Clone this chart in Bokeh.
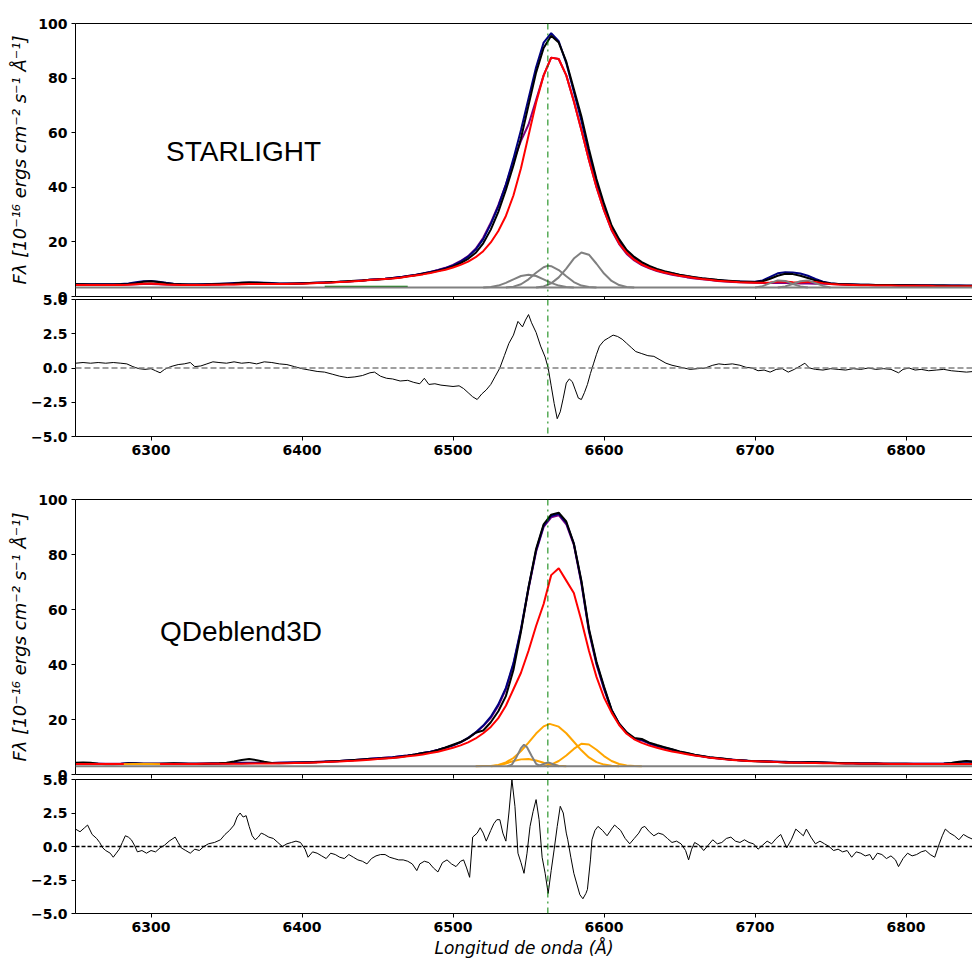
import numpy as np
from bokeh.plotting import figure
from bokeh.layouts import column
from bokeh.models import Span, Label, FixedTicker, LinearAxis, Range1d
from bokeh.embed import file_html
from bokeh.resources import INLINE

# ---------------- data ----------------
wl = np.arange(6250, 6850, 5)          # wavelength grid of the spectra (Angstrom)
halpha = 6562.8                          # H-alpha rest wavelength

x_ticks = [6300, 6400, 6500, 6600, 6700, 6800]
flux_ticks = [0, 20, 40, 60, 80, 100]
res_ticks = [-5, -2.5, 0, 2.5, 5]
res_tick_labels = ["\u22125.0", "\u22122.5", "0.0", "2.5", "5.0"]

# ---- STARLIGHT panel ----
obs1 = [
    4.5, 4.5, 4.4, 4.4, 4.4, 4.4, 4.5, 4.6, 4.9, 5.4,
    5.6, 5.3, 4.9, 4.6, 4.5, 4.4, 4.4, 4.4, 4.5, 4.6,
    4.7, 4.8, 5.0, 5.1, 5.0, 4.9, 4.8, 4.7, 4.7, 4.8,
    4.8, 4.9, 5.0, 5.1, 5.3, 5.4, 5.6, 5.8, 5.9, 6.1,
    6.2, 6.4, 6.7, 7.0, 7.4, 7.8, 8.3, 8.8, 9.4, 10.1,
    11.0, 12.2, 13.8, 16.0, 19.5, 24.5, 31.0, 39.0, 48.0, 58.0,
    70.0, 82.0, 91.0, 95.5, 93.0, 86.0, 76.0, 66.0, 54.0, 43.0,
    34.0, 26.0, 21.0, 17.0, 14.5, 12.6, 11.2, 10.1, 9.3, 8.6,
    8.0, 7.5, 7.1, 6.7, 6.4, 6.1, 5.9, 5.7, 5.5, 5.4,
    5.3, 5.6, 6.5, 7.6, 8.3, 8.2, 7.6, 6.8, 5.9, 5.2,
    4.8, 4.6, 4.5, 4.4, 4.3, 4.3, 4.2, 4.2, 4.2, 4.1,
    4.1, 4.1, 4.0, 4.0, 4.0, 4.0, 3.9, 3.9, 3.9, 3.9,
]
model1 = [
    4.5, 4.5, 4.5, 4.5, 4.5, 4.5, 4.6, 4.8, 5.2, 5.6,
    5.7, 5.4, 5.0, 4.7, 4.5, 4.4, 4.4, 4.5, 4.6, 4.7,
    4.8, 4.9, 5.0, 5.1, 5.1, 5.0, 4.9, 4.8, 4.8, 4.8,
    4.9, 4.9, 5.0, 5.1, 5.2, 5.4, 5.5, 5.7, 5.9, 6.1,
    6.3, 6.5, 6.8, 7.1, 7.5, 7.9, 8.4, 9.0, 9.6, 10.4,
    11.4, 12.8, 14.6, 17.2, 21.0, 26.5, 33.0, 41.0, 50.5, 61.0,
    72.5, 84.0, 93.0, 96.5, 93.5, 85.5, 75.0, 64.5, 52.5, 41.5,
    32.5, 25.0, 20.0, 16.3, 14.0, 12.2, 10.9, 9.9, 9.1, 8.5,
    7.9, 7.4, 7.0, 6.6, 6.3, 6.0, 5.8, 5.6, 5.5, 5.4,
    5.4, 5.9, 7.2, 8.5, 8.9, 8.8, 8.4, 7.6, 6.4, 5.4,
    4.9, 4.6, 4.5, 4.4, 4.3, 4.3, 4.2, 4.2, 4.2, 4.2,
    4.2, 4.1, 4.1, 4.1, 4.0, 4.0, 4.0, 4.0, 3.9, 3.9,
]
broad1 = [
    4.2, 4.2, 4.2, 4.2, 4.2, 4.2, 4.2, 4.3, 4.5, 4.7,
    4.8, 4.6, 4.4, 4.3, 4.2, 4.2, 4.2, 4.2, 4.3, 4.3,
    4.4, 4.4, 4.5, 4.6, 4.6, 4.6, 4.6, 4.6, 4.6, 4.7,
    4.7, 4.8, 4.9, 5.0, 5.1, 5.3, 5.4, 5.6, 5.8, 6.0,
    6.2, 6.4, 6.6, 6.9, 7.3, 7.7, 8.1, 8.6, 9.2, 9.8,
    10.6, 11.6, 12.8, 14.4, 16.6, 19.8, 24.0, 29.5, 37.0, 47.0,
    59.0, 71.0, 81.0, 87.5, 87.0, 81.0, 71.5, 61.0, 50.0, 40.0,
    31.5, 24.5, 19.5, 16.0, 13.5, 11.8, 10.5, 9.5, 8.8, 8.2,
    7.6, 7.2, 6.8, 6.4, 6.1, 5.8, 5.6, 5.4, 5.2, 5.1,
    5.0, 5.0, 5.1, 5.4, 5.5, 5.2, 5.1, 5.4, 5.3, 4.9,
    4.6, 4.4, 4.3, 4.2, 4.1, 4.1, 4.0, 4.0, 4.0, 3.9,
    3.9, 3.9, 3.9, 3.9, 3.8, 3.8, 3.8, 3.8, 3.8, 3.8,
]
cont1 = [
    4.3, 4.3, 4.3, 4.3, 4.3, 4.3, 4.3, 4.4, 4.5, 4.6,
    4.6, 4.5, 4.4, 4.3, 4.3, 4.3, 4.3, 4.3, 4.4, 4.4,
    4.5, 4.5, 4.6, 4.6, 4.6, 4.6, 4.6, 4.6, 4.7, 4.7,
    4.8, 4.9, 5.0, 5.1, 5.2, 5.4, 5.5, 5.7, 5.9, 6.1,
    6.3, 6.5, 6.8, 7.1, 7.5, 7.9, 8.4, 9.0, 9.7, 10.5,
    11.6, 13.0, 14.8, 17.5, 21.5, 27.0, 33.5, 41.0, 49.5, 57.0,
    63.0, 72.0, 81.0, 87.5, 87.0, 81.0, 71.5, 61.0, 50.0, 40.0,
    31.5, 24.3, 19.2, 15.6, 13.2, 11.5, 10.3, 9.3, 8.6, 8.0,
    7.5, 7.0, 6.6, 6.3, 6.0, 5.7, 5.5, 5.3, 5.2, 5.1,
    5.0, 4.9, 4.9, 4.9, 4.9, 4.9, 4.8, 4.8, 4.7, 4.7,
    4.6, 4.5, 4.4, 4.3, 4.2, 4.2, 4.1, 4.1, 4.1, 4.0,
    4.0, 4.0, 4.0, 3.9, 3.9, 3.9, 3.9, 3.9, 3.9, 3.9,
]
base1 = 3.3
n6548_1_wl = [6520, 6525, 6530, 6535, 6540, 6545, 6550, 6555, 6560, 6565, 6570, 6575, 6580]
n6548_1 = [3.3, 3.5, 4.0, 5.0, 6.3, 7.5, 8.0, 7.5, 6.3, 5.0, 4.0, 3.5, 3.3]
ha_n1_wl = [6535, 6540, 6545, 6550, 6555, 6560, 6563, 6565, 6570, 6575, 6580, 6585, 6590, 6595]
ha_n1 = [3.3, 3.6, 4.5, 6.3, 8.7, 10.7, 11.3, 11.1, 9.7, 7.4, 5.3, 4.0, 3.5, 3.3]
n6583_1_wl = [6555, 6560, 6565, 6570, 6575, 6580, 6585, 6590, 6595, 6600, 6605, 6610, 6615, 6620]
n6583_1 = [3.3, 3.7, 4.8, 7.0, 10.2, 13.9, 16.1, 15.3, 12.0, 8.4, 5.7, 4.2, 3.5, 3.3]
s6716_1_wl = [6700, 6705, 6710, 6715, 6720, 6725, 6730, 6735]
s6716_1 = [3.3, 3.8, 4.9, 5.9, 5.7, 4.6, 3.7, 3.3]
s6731_1_wl = [6715, 6720, 6725, 6730, 6735, 6740, 6745, 6750]
s6731_1 = [3.3, 3.7, 4.6, 5.6, 5.9, 4.9, 3.9, 3.3]
green1_wl = [6415, 6440, 6470]
green1 = [3.6, 3.6, 3.6]

res1_wl = [6250, 6255, 6260, 6265, 6270, 6275, 6280, 6284, 6288, 6292, 6296, 6300, 6303, 6306,
           6309, 6313, 6318, 6322, 6326, 6329, 6333, 6337, 6341, 6345, 6350, 6355, 6360, 6365,
           6370, 6375, 6380, 6385, 6390, 6395, 6400, 6405, 6410, 6415, 6420, 6425, 6430, 6435,
           6440, 6445, 6448, 6452, 6456, 6460, 6465, 6470, 6474, 6478, 6481, 6484, 6488, 6492,
           6496, 6500, 6504, 6507, 6510, 6513, 6516, 6519, 6522, 6525, 6528, 6531, 6534, 6537,
           6540, 6543, 6546, 6548, 6550, 6552, 6555, 6558, 6561, 6563, 6565, 6567, 6569, 6571,
           6573, 6575, 6577, 6579, 6581, 6583, 6585, 6587, 6589, 6591, 6593, 6595, 6597, 6600,
           6603, 6606, 6609, 6612, 6615, 6618, 6621, 6625, 6629, 6633, 6637, 6641, 6645, 6649,
           6653, 6657, 6662, 6667, 6672, 6676, 6680, 6685, 6690, 6694, 6698, 6702, 6706, 6710,
           6714, 6718, 6722, 6726, 6730, 6733, 6736, 6740, 6745, 6750, 6755, 6760, 6765, 6770,
           6775, 6780, 6785, 6790, 6795, 6798, 6802, 6806, 6810, 6815, 6820, 6825, 6830, 6835,
           6840, 6845]
res1 = [0.35, 0.4, 0.35, 0.4, 0.35, 0.4, 0.35, 0.3, 0.1, -0.05, -0.1, -0.05, -0.2, -0.35,
        -0.1, 0.1, 0.25, 0.3, 0.4, 0.1, 0.15, 0.3, 0.45, 0.4, 0.35, 0.45, 0.35, 0.4,
        0.3, 0.45, 0.4, 0.3, 0.25, 0.1, -0.05, -0.15, -0.25, -0.3, -0.45, -0.6, -0.7, -0.65,
        -0.55, -0.35, -0.3, -0.6, -0.75, -0.8, -0.95, -0.9, -1.05, -1.15, -0.75, -1.2, -1.15, -1.25,
        -1.3, -1.35, -1.3, -1.5, -1.8, -2.1, -2.3, -1.9, -1.6, -1.2, -0.6, 0.0, 0.9, 1.8,
        2.4, 3.4, 3.0, 3.5, 3.9, 3.3, 2.6, 1.6, 0.8, 0.0, -1.3, -2.6, -3.7, -3.2,
        -2.2, -1.1, -0.8, -1.0, -1.6, -2.2, -2.3, -1.8, -1.2, -0.4, 0.3, 1.0, 1.6, 2.0,
        2.2, 2.4, 2.3, 2.1, 1.8, 1.5, 1.2, 1.05, 0.9, 0.85, 0.6, 0.35, 0.2, 0.1,
        0.0, -0.1, -0.05, 0.0, 0.2, 0.3, 0.25, 0.3, 0.2, 0.05, 0.0, -0.2, -0.15, -0.3,
        -0.1, -0.05, -0.3, -0.1, 0.15, 0.35, 0.0, -0.1, -0.15, -0.05, -0.1, -0.15, -0.05, -0.1,
        0.0, -0.1, -0.05, -0.1, -0.35, -0.1, 0.0, -0.15, -0.1, -0.2, -0.15, -0.1, -0.2, -0.25,
        -0.3, -0.25]

# ---- QDeblend3D panel ----
obs2 = [
    4.3, 4.4, 4.3, 3.9, 3.7, 3.7, 3.8, 4.0, 4.0, 3.9,
    3.9, 3.9, 4.0, 4.1, 4.0, 3.9, 3.9, 3.9, 4.0, 4.1,
    4.3, 4.7, 5.3, 5.6, 5.2, 4.6, 4.2, 4.1, 4.2, 4.3,
    4.4, 4.4, 4.5, 4.6, 4.8, 4.9, 5.1, 5.3, 5.5, 5.6,
    5.7, 5.9, 6.1, 6.4, 6.8, 7.3, 7.8, 8.1, 8.9, 9.8,
    10.8, 11.8, 13.2, 15.2, 16.0, 19.0, 23.0, 28.5, 38.0, 52.0,
    68.0, 82.0, 91.0, 94.5, 95.2, 92.0, 84.0, 70.5, 53.0, 41.0,
    32.0, 23.5, 18.5, 15.3, 13.3, 12.9, 11.6, 10.7, 9.9, 9.2,
    8.4, 7.8, 7.2, 6.7, 6.3, 6.0, 5.7, 5.4, 5.2, 5.0,
    4.8, 4.7, 4.6, 4.5, 4.4, 4.4, 4.4, 4.5, 4.5, 4.4,
    4.3, 4.2, 4.1, 4.1, 4.0, 4.0, 4.0, 3.9, 3.9, 3.9,
    3.9, 3.8, 3.8, 3.8, 3.8, 3.9, 4.2, 4.6, 4.9, 4.6,
]
model2 = [
    4.1, 4.1, 4.0, 3.9, 3.8, 3.8, 3.9, 4.2, 4.1, 3.9,
    3.9, 3.9, 3.9, 4.0, 4.0, 3.9, 3.9, 3.9, 4.0, 4.0,
    4.1, 4.2, 4.3, 4.3, 4.3, 4.2, 4.2, 4.3, 4.4, 4.4,
    4.4, 4.5, 4.5, 4.6, 4.7, 4.9, 5.1, 5.3, 5.5, 5.7,
    5.9, 6.1, 6.3, 6.6, 6.9, 7.3, 7.8, 8.3, 8.9, 9.7,
    10.6, 11.8, 13.3, 15.3, 17.8, 21.0, 25.5, 31.5, 40.5, 53.0,
    68.0, 81.5, 90.5, 94.0, 94.8, 91.5, 84.0, 70.0, 52.5, 40.5,
    31.5, 23.5, 18.5, 15.2, 13.0, 12.6, 11.4, 10.5, 9.8, 9.1,
    8.3, 7.7, 7.1, 6.6, 6.2, 5.9, 5.6, 5.4, 5.2, 5.0,
    4.9, 4.8, 4.7, 4.6, 4.6, 4.5, 4.5, 4.5, 4.5, 4.4,
    4.3, 4.2, 4.1, 4.1, 4.0, 4.0, 4.0, 3.9, 3.9, 3.9,
    3.9, 3.9, 3.9, 3.9, 3.9, 4.0, 4.2, 4.5, 4.7, 4.6,
]
broad2 = [
    3.8, 3.8, 3.8, 3.8, 3.8, 3.8, 3.8, 3.8, 3.8, 3.8,
    3.8, 3.8, 3.8, 3.8, 3.8, 3.8, 3.8, 3.9, 3.9, 3.9,
    3.9, 3.9, 3.9, 4.0, 4.0, 4.0, 4.0, 4.1, 4.1, 4.2,
    4.2, 4.3, 4.4, 4.5, 4.6, 4.7, 4.9, 5.0, 5.2, 5.4,
    5.6, 5.8, 6.0, 6.3, 6.6, 6.9, 7.3, 7.8, 8.3, 9.0,
    9.7, 10.6, 11.7, 13.1, 15.0, 17.3, 20.5, 25.0, 31.0, 37.0,
    45.0, 54.0, 62.0, 72.5, 75.0, 70.5, 66.0, 56.0, 45.0, 35.5,
    28.0, 22.5, 18.0, 14.8, 12.8, 11.5, 10.5, 9.7, 9.0, 8.4,
    7.9, 7.4, 6.9, 6.5, 6.1, 5.8, 5.5, 5.3, 5.1, 4.9,
    4.8, 4.7, 4.6, 4.5, 4.4, 4.3, 4.3, 4.2, 4.2, 4.1,
    4.1, 4.0, 4.0, 4.0, 3.9, 3.9, 3.9, 3.9, 3.8, 3.8,
    3.8, 3.8, 3.8, 3.8, 3.8, 3.8, 3.8, 3.8, 3.8, 3.8,
]
cont2 = [
    3.9, 3.9, 3.9, 3.9, 3.9, 3.9, 3.9, 3.9, 3.9, 3.9,
    3.9, 3.9, 3.9, 3.9, 3.9, 3.9, 3.9, 4.0, 4.0, 4.0,
    4.0, 4.1, 4.1, 4.1, 4.2, 4.2, 4.2, 4.3, 4.3, 4.4,
    4.4, 4.5, 4.6, 4.7, 4.8, 4.9, 5.1, 5.3, 5.5, 5.7,
    5.9, 6.1, 6.3, 6.6, 6.9, 7.3, 7.8, 8.3, 8.9, 9.7,
    10.6, 11.7, 13.2, 15.2, 17.6, 20.6, 25.0, 31.0, 40.0, 52.5,
    67.5, 81.0, 90.0, 93.5, 94.3, 91.0, 83.5, 69.5, 52.0, 40.0,
    31.0, 23.3, 18.3, 15.1, 13.0, 12.4, 11.2, 10.3, 9.6, 8.9,
    8.1, 7.5, 7.0, 6.6, 6.2, 5.9, 5.6, 5.4, 5.2, 5.0,
    4.9, 4.8, 4.7, 4.6, 4.5, 4.5, 4.4, 4.4, 4.3, 4.3,
    4.2, 4.2, 4.1, 4.1, 4.0, 4.0, 4.0, 3.9, 3.9, 3.9,
    3.9, 3.9, 3.9, 3.9, 3.9, 3.9, 3.9, 3.9, 3.9, 3.9,
]
base2 = 3.0
ha_n2_wl = [6515, 6520, 6525, 6530, 6535, 6540, 6545, 6550, 6555, 6560, 6564, 6570, 6575,
            6580, 6585, 6590, 6595, 6600, 6605, 6610]
ha_n2 = [3.0, 3.05, 3.1, 3.5, 4.4, 6.0, 8.5, 11.6, 14.9, 17.5, 18.4, 17.4, 15.0,
         11.9, 8.8, 6.2, 4.5, 3.6, 3.2, 3.0]
n6583_2_wl = [6560, 6565, 6570, 6575, 6580, 6585, 6590, 6595, 6600, 6605, 6610, 6615, 6620, 6625]
n6583_2 = [3.1, 3.6, 4.9, 6.9, 9.3, 11.2, 10.9, 9.0, 6.7, 4.9, 3.8, 3.3, 3.05, 3.0]
n6548_2_wl = [6525, 6530, 6535, 6540, 6545, 6550, 6555, 6560, 6565, 6570, 6575]
n6548_2 = [3.0, 3.3, 4.0, 4.9, 5.5, 5.6, 5.1, 4.3, 3.6, 3.2, 3.0]
o6300_2_wl = [6282, 6288, 6294, 6300, 6306]
o6300_2 = [3.75, 3.8, 3.85, 3.8, 3.75]
gn6548_2_wl = [6536, 6539, 6542, 6545, 6547, 6549, 6552, 6555, 6558]
gn6548_2 = [3.0, 3.6, 6.3, 9.6, 10.8, 9.9, 6.8, 3.9, 3.0]
gha_2_wl = [6556, 6560, 6563, 6566, 6570]
gha_2 = [3.0, 3.8, 4.4, 3.8, 3.0]

res2_wl = [6250, 6253, 6256, 6258, 6261, 6264, 6266, 6268, 6270, 6273, 6275, 6277, 6279, 6281,
           6283, 6285, 6287, 6289, 6291, 6294, 6297, 6300, 6303, 6306, 6309, 6312, 6316, 6318,
           6320, 6323, 6326, 6329, 6332, 6335, 6338, 6342, 6346, 6349, 6352, 6355, 6357, 6359,
           6361, 6363, 6365, 6367, 6369, 6371, 6373, 6375, 6378, 6381, 6384, 6387, 6390, 6393,
           6396, 6399, 6402, 6404, 6407, 6410, 6413, 6416, 6419, 6422, 6425, 6428, 6431, 6434,
           6437, 6440, 6443, 6446, 6449, 6452, 6455, 6458, 6461, 6464, 6467, 6470, 6473, 6476,
           6478, 6481, 6484, 6487, 6490, 6493, 6496, 6499, 6502, 6505, 6507, 6509, 6511, 6513,
           6516, 6518, 6520, 6522, 6525, 6527, 6529, 6531, 6533, 6535, 6537, 6539, 6541, 6543,
           6545, 6547, 6549, 6551, 6553, 6555, 6557, 6559, 6561, 6563, 6565, 6567, 6569, 6571,
           6573, 6575, 6576, 6578, 6580, 6582, 6584, 6586, 6588, 6589, 6591, 6592, 6594, 6596,
           6599, 6602, 6605, 6607, 6609, 6611, 6614, 6617, 6620, 6623, 6625, 6627, 6630, 6633,
           6636, 6639, 6642, 6645, 6648, 6651, 6654, 6656, 6658, 6660, 6663, 6666, 6669, 6672,
           6675, 6678, 6681, 6684, 6687, 6690, 6693, 6696, 6699, 6702, 6705, 6708, 6711, 6714,
           6717, 6719, 6721, 6724, 6727, 6730, 6732, 6734, 6737, 6740, 6743, 6746, 6749, 6752,
           6755, 6758, 6761, 6764, 6767, 6770, 6773, 6776, 6778, 6781, 6784, 6787, 6790, 6793,
           6795, 6798, 6801, 6804, 6807, 6810, 6813, 6816, 6819, 6822, 6824, 6826, 6829, 6832,
           6835, 6838, 6841, 6845]
res2 = [1.3, 1.1, 1.4, 1.6, 0.9, 0.6, 0.3, -0.1, -0.3, -0.5, -0.8, -0.5, -0.2, 0.3,
        0.8, 0.7, 0.5, 0.1, -0.4, -0.3, -0.5, -0.3, -0.4, -0.1, 0.1, 0.4, 0.7, 0.3,
        -0.1, -0.3, -0.5, -0.2, -0.3, 0.0, 0.2, 0.3, 0.5, 0.9, 1.2, 1.6, 2.2, 2.5,
        2.2, 2.3, 1.5, 0.8, 0.5, 0.7, 1.0, 0.9, 0.7, 0.6, 0.3, 0.0, 0.2, 0.3,
        0.4, 0.3, -0.2, -0.8, -0.4, -0.5, -0.7, -0.9, -0.5, -0.6, -0.8, -0.9, -0.6, -0.8,
        -1.0, -1.1, -1.3, -0.9, -0.7, -0.6, -0.6, -0.8, -0.9, -1.0, -1.0, -1.1, -1.3, -1.8,
        -1.3, -1.1, -1.2, -1.6, -1.9, -1.2, -1.0, -1.3, -1.5, -1.1, -1.0, -1.6, -2.3, 0.7,
        1.0, 1.4, 1.0, 0.4, 1.2, 1.7, 2.0, 2.0, 1.0, 0.4, 2.5, 5.0, 3.0, -0.5,
        -1.2, -2.0, -0.5, 1.5, 2.6, 3.5, 2.0, -0.8, -2.0, -3.5, -1.8, -0.2, 1.5, 3.0,
        2.5, 1.0, 0.5, -0.8, -2.0, -2.8, -3.6, -3.9, -3.5, -3.2, -1.0, 0.5, 1.2, 1.5,
        1.2, 0.8, 1.3, 1.6, 1.4, 1.2, 0.6, 0.2, 0.6, 1.0, 1.4, 1.5, 1.1, 0.8,
        1.0, 0.9, 0.6, 0.3, 0.4, 0.2, -0.3, -1.0, -0.2, 0.3, 0.1, -0.3, 0.1, 0.5,
        0.2, 0.3, 0.6, 0.7, 0.4, 0.3, 0.5, 0.3, 0.2, -0.2, 0.1, 0.4, 0.2, 0.6,
        0.9, 0.4, -0.1, 0.5, 1.3, 1.0, 0.8, 1.3, 0.7, 0.2, 0.4, 0.2, 0.0, -0.3,
        -0.2, -0.4, -0.3, -0.8, -0.4, -0.5, -0.7, -0.6, -1.0, -0.5, -0.6, -0.9, -0.7, -1.0,
        -1.5, -0.9, -0.5, -0.7, -0.6, -0.4, -0.3, -0.6, -0.8, 0.2, 0.8, 1.3, 1.0, 0.8,
        0.5, 0.9, 0.7, 0.5]

# ---------------- styling helpers ----------------
XR = Range1d(6250, 6844)
TICK_FONT = "DejaVu Sans"


def style_axis(ax, show_labels=True):
    ax.axis_line_color = "black"
    ax.axis_line_width = 1
    ax.major_tick_line_color = "black"
    ax.major_tick_out = 4
    ax.major_tick_in = 0
    ax.minor_tick_line_color = None
    ax.major_label_text_font = TICK_FONT
    ax.major_label_text_font_style = "bold"
    ax.major_label_text_font_size = "14px"
    ax.major_label_text_color = "black" if show_labels else None
    ax.major_label_standoff = 4


def make_fig(height, bt, bb, y_range):
    p = figure(width=972, height=height, x_range=XR, y_range=y_range,
               output_backend="svg", toolbar_location=None,
               min_border_left=75, min_border_right=0,
               min_border_top=bt, min_border_bottom=bb,
               border_fill_color=None, outline_line_color=None,
               background_fill_color="white")
    p.xgrid.visible = False
    p.ygrid.visible = False
    top = LinearAxis(ticker=FixedTicker(ticks=[]), major_tick_line_color=None,
                     minor_tick_line_color=None, major_label_text_color=None,
                     axis_line_color="black")
    p.add_layout(top, "above")
    p.below[0].ticker = FixedTicker(ticks=x_ticks)
    p.add_layout(Span(location=halpha, dimension="height", line_color="green",
                      line_dash="dashdot", line_width=1))
    return p


def spectrum_panel(height, bt, bb, base, name, label_x, label_y, extra):
    p = make_fig(height, bt, bb, Range1d(0, 100))
    style_axis(p.below[0], show_labels=False)
    style_axis(p.left[0])
    p.left[0].ticker = FixedTicker(ticks=flux_ticks)
    p.left[0].axis_label = "F\u03bb [10\u207b\u00b9\u2076 ergs cm\u207b\u00b2 s\u207b\u00b9 \u00c5\u207b\u00b9]"
    p.left[0].axis_label_text_font = "DejaVu Sans"
    p.left[0].axis_label_text_font_style = "italic"
    p.left[0].axis_label_text_font_size = "18px"
    p.left[0].axis_label_text_color = "black"
    p.left[0].axis_label_standoff = 5
    p.add_layout(Span(location=0, dimension="width", line_color="black",
                      line_dash="5 3", line_width=1))
    p.add_layout(Span(location=base, dimension="width", line_color="gray", line_width=2))
    extra(p)
    p.add_layout(Label(x=label_x, y=label_y, text=name, text_font="Liberation Sans",
                       text_font_size="28px", text_color="black"))
    return p


def residual_panel(height, bt, bb, rwl, res, zero_color, zero_dash):
    p = make_fig(height, bt, bb, Range1d(-5, 5))
    style_axis(p.below[0])
    style_axis(p.left[0])
    p.left[0].ticker = FixedTicker(ticks=res_ticks)
    p.left[0].major_label_overrides = dict(zip(res_ticks, res_tick_labels))
    p.add_layout(Span(location=0, dimension="width", line_color=zero_color,
                      line_dash=zero_dash, line_width=1.3))
    p.line(rwl, res, line_color="black", line_width=1)
    return p


def draw_top(p):
    p.line(wl, cont1, line_color="purple", line_width=2)
    p.line(wl, model1, line_color="navy", line_width=2)
    p.line(wl, obs1, line_color="black", line_width=2)
    p.line(wl, broad1, line_color="red", line_width=2)
    p.line(green1_wl, green1, line_color="green", line_width=2)
    for xs, ys in [(n6548_1_wl, n6548_1), (ha_n1_wl, ha_n1), (n6583_1_wl, n6583_1),
                   (s6716_1_wl, s6716_1), (s6731_1_wl, s6731_1)]:
        p.line(xs, ys, line_color="gray", line_width=2)


def draw_bottom(p):
    p.line(wl, cont2, line_color="purple", line_width=2)
    p.line(wl, model2, line_color="navy", line_width=2)
    p.line(wl, obs2, line_color="black", line_width=2)
    p.line(wl, broad2, line_color="red", line_width=2)
    for xs, ys in [(ha_n2_wl, ha_n2), (n6583_2_wl, n6583_2), (n6548_2_wl, n6548_2),
                   (o6300_2_wl, o6300_2)]:
        p.line(xs, ys, line_color="orange", line_width=2)
    for xs, ys in [(gn6548_2_wl, gn6548_2), (gha_2_wl, gha_2)]:
        p.line(xs, ys, line_color="gray", line_width=2)


pA = spectrum_panel(308, 23, 12, base1, "STARLIGHT", 6310, 47.3, draw_top)
pB = residual_panel(189, 12, 40, res1_wl, res1, "gray", "6 3")
pB.styles = {"margin-top": "-21px"}
pC = spectrum_panel(310, 23, 12, base2, "QDeblend3D", 6306, 46.5, draw_bottom)
pD = residual_panel(194, 12, 48, res2_wl, res2, "black", "4 2")
pD.styles = {"margin-top": "-19px"}
pD.below[0].axis_label = "Longitud de onda (\u00c5)"
pD.below[0].axis_label_text_font = "DejaVu Sans"
pD.below[0].axis_label_text_font_style = "italic"
pD.below[0].axis_label_text_font_size = "17px"
pD.below[0].axis_label_text_color = "black"
pD.below[0].axis_label_standoff = 3

layout = column(pA, pB, pC, pD)
open("out.html", "w").write(file_html(layout, INLINE))
